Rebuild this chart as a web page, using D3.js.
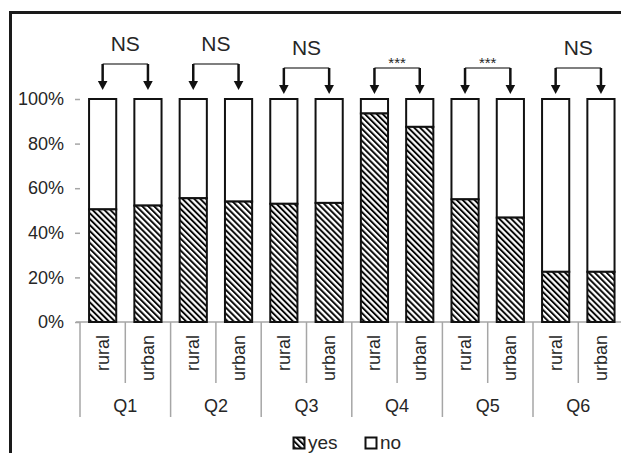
<!DOCTYPE html>
<html>
<head>
<meta charset="utf-8">
<script src="https://cdn.jsdelivr.net/npm/d3@7"></script>
<style>
  body { margin: 0; background: #fff; }
  text { font-family: "Liberation Sans", Arial, sans-serif; fill: #262626; }
</style>
</head>
<body>
<div id="chart"></div>
<script>
// data (percent answering "yes")
var questions = ["Q1", "Q2", "Q3", "Q4", "Q5", "Q6"];
var areas = ["rural", "urban"];
var yesRural = [50.5, 55.5, 53, 93.5, 55, 22.5];
var yesUrban = [52.2, 54, 53.4, 87.5, 46.8, 22.5];
var signif = ["NS", "NS", "NS", "***", "***", "NS"];
var tickVals = [0, 20, 40, 60, 80, 100];
var legendKeys = ["yes", "no"];

var width = 621, height = 453;
var axisColor = "#a6a6a6";

var svg = d3.select("#chart").append("svg")
  .attr("width", width).attr("height", height);

// hatch pattern for "yes"
var defs = svg.append("defs");
defs.append("pattern")
  .attr("id", "hatch")
  .attr("patternUnits", "userSpaceOnUse")
  .attr("width", 4.2).attr("height", 4.2)
  .attr("patternTransform", "rotate(-45)")
  .call(function (p) {
    p.append("rect").attr("width", 4.2).attr("height", 4.2).attr("fill", "#fff");
    p.append("line").attr("x1", 1).attr("y1", 0).attr("x2", 1).attr("y2", 4.2)
      .attr("stroke", "#000").attr("stroke-width", 1.9);
  });

// frame (only top and left visible)
svg.append("path")
  .attr("d", "M10.5,453 V12.5 H621")
  .attr("fill", "none").attr("stroke", "#1a1a1a").attr("stroke-width", 3);

var y = d3.scaleLinear().domain([0, 100]).range([322, 99]);
var xg = d3.scaleBand().domain(questions).range([80, 623.6]).padding(0);
var xs = d3.scaleBand().domain(areas).range([0, xg.bandwidth()])
  .paddingInner(0.4).paddingOuter(0.2);

// y axis
var yAxis = svg.append("g")
  .attr("transform", "translate(80,0)")
  .call(d3.axisLeft(y).tickValues(tickVals).tickSize(5).tickPadding(11)
    .tickFormat(function (d) { return d + "%"; }));
yAxis.selectAll("path, line").attr("stroke", axisColor).attr("stroke-width", 1.5);
yAxis.select(".domain").attr("d", "M75,99.5H80V322");
yAxis.selectAll("text").attr("font-size", 18).style("font-family", "Liberation Sans, Arial, sans-serif").attr("fill", "#262626");

// x axis baseline and separators
var g = svg.append("g");
g.append("line").attr("x1", 76).attr("x2", 623).attr("y1", y(0)).attr("y2", y(0))
  .attr("stroke", axisColor).attr("stroke-width", 1.5);

questions.forEach(function (q, i) {
  var x0 = xg(q);
  g.append("line").attr("x1", x0).attr("x2", x0).attr("y1", y(0)).attr("y2", 417)
    .attr("stroke", axisColor).attr("stroke-width", 1.5);
  g.append("line").attr("x1", x0 + xg.bandwidth() / 2).attr("x2", x0 + xg.bandwidth() / 2)
    .attr("y1", y(0)).attr("y2", 383)
    .attr("stroke", axisColor).attr("stroke-width", 1.5);
  g.append("text").attr("x", x0 + xg.bandwidth() / 2).attr("y", 412)
    .attr("text-anchor", "middle").attr("font-size", 18).text(q);

  areas.forEach(function (a) {
    var cx = x0 + xs(a) + xs.bandwidth() / 2;
    g.append("text")
      .attr("transform", "translate(" + (cx + 6) + ",335) rotate(-90)")
      .attr("text-anchor", "end").attr("font-size", 18).text(a);
  });
});

// bars
var bars = [];
questions.forEach(function (q, i) {
  bars.push({ q: q, a: "rural", yes: yesRural[i] });
  bars.push({ q: q, a: "urban", yes: yesUrban[i] });
});

var bg = svg.append("g");
bars.forEach(function (d) {
  var bx = xg(d.q) + xs(d.a);
  bg.append("rect").attr("x", bx).attr("width", xs.bandwidth())
    .attr("y", y(100)).attr("height", y(d.yes) - y(100))
    .attr("fill", "#fff").attr("stroke", "#111").attr("stroke-width", 2);
  bg.append("rect").attr("x", bx).attr("width", xs.bandwidth())
    .attr("y", y(d.yes)).attr("height", y(0) - y(d.yes))
    .attr("fill", "url(#hatch)").attr("stroke", "#111").attr("stroke-width", 2);
});

// significance brackets
var ann = svg.append("g");
questions.forEach(function (q, i) {
  var off = i < 2 ? 0 : 4;
  var xa = xg(q) + xs("rural") + xs.bandwidth() / 2;
  var xb = xg(q) + xs("urban") + xs.bandwidth() / 2;
  var top = 64 + off, tip = 90 + off;
  ann.append("line").attr("x1", xa).attr("x2", xb).attr("y1", top).attr("y2", top)
    .attr("stroke", "#555").attr("stroke-width", 1.3);
  [xa, xb].forEach(function (x) {
    ann.append("line").attr("x1", x).attr("x2", x).attr("y1", top).attr("y2", tip - 8)
      .attr("stroke", "#111").attr("stroke-width", 2.5);
    ann.append("path").attr("d", "M" + (x - 4.8) + "," + (tip - 9) + "L" + (x + 4.8) + "," + (tip - 9) + "L" + x + "," + tip + "Z")
      .attr("fill", "#111");
  });
  var isStar = signif[i] === "***";
  ann.append("text").attr("x", (xa + xb) / 2)
    .attr("y", isStar ? 64 + off : 51 + off)
    .attr("text-anchor", "middle")
    .attr("font-size", isStar ? 15 : 21)
    .text(signif[i]);
});

// legend
var leg = svg.append("g");
var legX = [293, 365];
legendKeys.forEach(function (k, i) {
  leg.append("rect").attr("x", legX[i] + 0.5).attr("y", 437.5).attr("width", 11).attr("height", 11)
    .attr("fill", k === "yes" ? "url(#hatch)" : "#fff")
    .attr("stroke", "#111").attr("stroke-width", 2);
  leg.append("text").attr("x", legX[i] + 15).attr("y", 449).attr("font-size", 19).text(k);
});
</script>
</body>
</html>
